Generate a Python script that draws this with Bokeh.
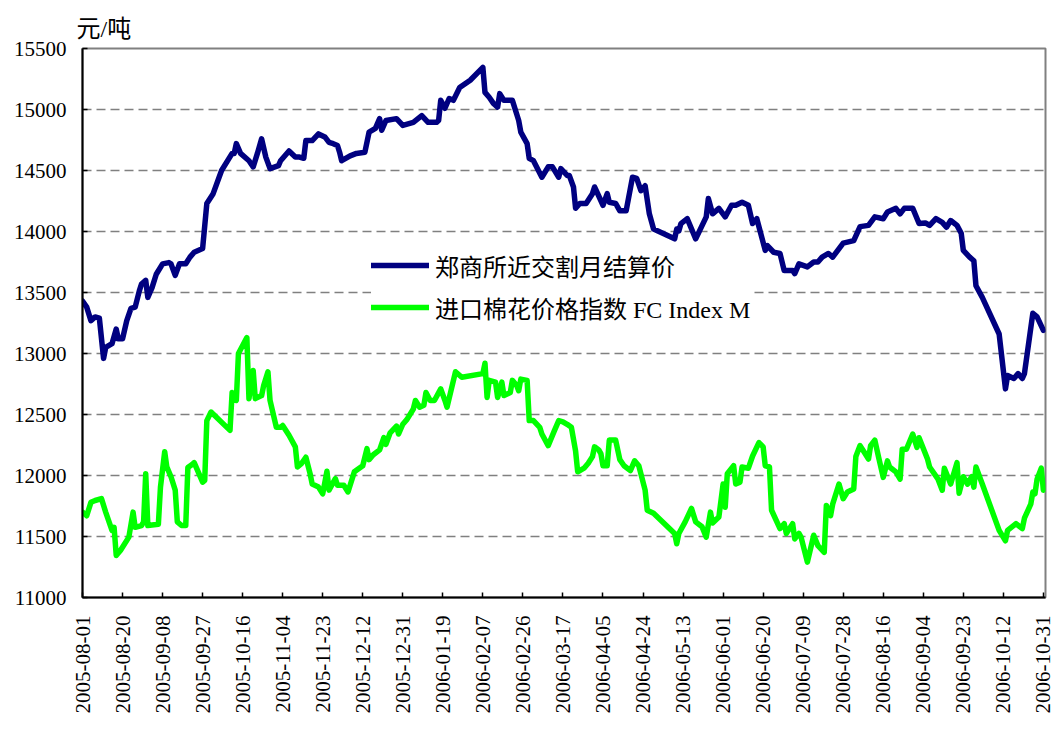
from math import pi
import pandas as pd
from bokeh.plotting import figure
from bokeh.models import (Range1d, FixedTicker, DatetimeTickFormatter,
                          Legend, LegendItem)
from bokeh.embed import file_html
from bokeh.resources import INLINE

# ---------------- data ----------------
tick_labels = ["2005-08-01", "2005-08-20", "2005-09-08", "2005-09-27", "2005-10-16",
               "2005-11-04", "2005-11-23", "2005-12-12", "2005-12-31", "2006-01-19",
               "2006-02-07", "2006-02-26", "2006-03-17", "2006-04-05", "2006-04-24",
               "2006-05-13", "2006-06-01", "2006-06-20", "2006-07-09", "2006-07-28",
               "2006-08-16", "2006-09-04", "2006-09-23", "2006-10-12", "2006-10-31"]
y_ticks = [11000, 11500, 12000, 12500, 13000, 13500, 14000, 14500, 15000, 15500]

unit_label = "元/吨"
series_names = ["郑商所近交割月结算价", "进口棉花价格指数 FC Index M"]

zce_dates = [
    "2005-08-01", "2005-08-03", "2005-08-05", "2005-08-07", "2005-08-09", "2005-08-11",
    "2005-08-12", "2005-08-15", "2005-08-17", "2005-08-18", "2005-08-20", "2005-08-22",
    "2005-08-24", "2005-08-26", "2005-08-28", "2005-08-29", "2005-08-31", "2005-09-01",
    "2005-09-03", "2005-09-05", "2005-09-08", "2005-09-11", "2005-09-12", "2005-09-14",
    "2005-09-16", "2005-09-19", "2005-09-21", "2005-09-23", "2005-09-27", "2005-09-29",
    "2005-10-02", "2005-10-06", "2005-10-11", "2005-10-12", "2005-10-13", "2005-10-15",
    "2005-10-19", "2005-10-21", "2005-10-23", "2005-10-25", "2005-10-27", "2005-10-29",
    "2005-11-02", "2005-11-03", "2005-11-07", "2005-11-10", "2005-11-12", "2005-11-14",
    "2005-11-15", "2005-11-18", "2005-11-21", "2005-11-24", "2005-11-26", "2005-11-28",
    "2005-11-30", "2005-12-01", "2005-12-02", "2005-12-06", "2005-12-09", "2005-12-13",
    "2005-12-15", "2005-12-18", "2005-12-20", "2005-12-21", "2005-12-23", "2005-12-28",
    "2005-12-31", "2006-01-05", "2006-01-09", "2006-01-12", "2006-01-16", "2006-01-17",
    "2006-01-18", "2006-01-20", "2006-01-22", "2006-01-24", "2006-01-27", "2006-02-01",
    "2006-02-07", "2006-02-08", "2006-02-10", "2006-02-12", "2006-02-14", "2006-02-15",
    "2006-02-17", "2006-02-21", "2006-02-23", "2006-02-24", "2006-02-25", "2006-02-28",
    "2006-03-01", "2006-03-03", "2006-03-07", "2006-03-10", "2006-03-12", "2006-03-15",
    "2006-03-16", "2006-03-19", "2006-03-20", "2006-03-22", "2006-03-23", "2006-03-25",
    "2006-03-28", "2006-03-31", "2006-04-01", "2006-04-05", "2006-04-07", "2006-04-08",
    "2006-04-11", "2006-04-13", "2006-04-16", "2006-04-19", "2006-04-21", "2006-04-23",
    "2006-04-25", "2006-04-27", "2006-04-29", "2006-05-09", "2006-05-10", "2006-05-11",
    "2006-05-12", "2006-05-15", "2006-05-19", "2006-05-24", "2006-05-25", "2006-05-27",
    "2006-05-30", "2006-06-02", "2006-06-05", "2006-06-07", "2006-06-10", "2006-06-13",
    "2006-06-15", "2006-06-17", "2006-06-21", "2006-06-22", "2006-06-25", "2006-06-28",
    "2006-06-30", "2006-07-04", "2006-07-05", "2006-07-07", "2006-07-11", "2006-07-14",
    "2006-07-16", "2006-07-18", "2006-07-21", "2006-07-23", "2006-07-28", "2006-08-02",
    "2006-08-05", "2006-08-09", "2006-08-12", "2006-08-16", "2006-08-18", "2006-08-22",
    "2006-08-24", "2006-08-26", "2006-08-30", "2006-09-02", "2006-09-05", "2006-09-07",
    "2006-09-10", "2006-09-13", "2006-09-15", "2006-09-17", "2006-09-20", "2006-09-22",
    "2006-09-23", "2006-09-26", "2006-09-28", "2006-09-29", "2006-10-02", "2006-10-10",
    "2006-10-13", "2006-10-14", "2006-10-17", "2006-10-19", "2006-10-21", "2006-10-22",
    "2006-10-26", "2006-10-28", "2006-10-31"]
zce_values = [
    13430, 13380, 13270, 13300, 13290, 12960,
    13050, 13080, 13200, 13120, 13120, 13270,
    13370, 13380, 13515, 13570, 13600, 13460,
    13540, 13650, 13735, 13745, 13735, 13640,
    13735, 13735, 13790, 13830, 13860, 14230,
    14310, 14500, 14640, 14640, 14720, 14640,
    14580, 14530, 14640, 14760, 14610, 14515,
    14540, 14580, 14660, 14610, 14610, 14600,
    14745, 14745, 14800, 14775, 14730, 14720,
    14705, 14650, 14580, 14620, 14640, 14650,
    14815, 14845, 14925, 14830, 14910, 14925,
    14870, 14895, 14950, 14895, 14895, 14910,
    15075, 15010, 15090, 15075, 15180, 15240,
    15345, 15140, 15100, 15050, 15020, 15130,
    15075, 15075, 14965, 14910, 14815, 14720,
    14600, 14580, 14445, 14530, 14530, 14445,
    14515, 14460, 14460, 14365, 14190, 14230,
    14230, 14310, 14365, 14215, 14310, 14240,
    14230, 14170, 14170, 14445, 14435, 14335,
    14375, 14145, 14020, 13940, 14020, 14005,
    14065, 14105, 13940, 14120, 14270, 14145,
    14190, 14120, 14215, 14215, 14240, 14215,
    14065, 14105, 13845, 13885, 13830, 13820,
    13680, 13680, 13655, 13735, 13710, 13750,
    13750, 13790, 13820, 13790, 13905, 13925,
    14040, 14050, 14120, 14105, 14160, 14190,
    14145, 14190, 14190, 14065, 14070, 14050,
    14105, 14075, 14035, 14090, 14050, 13985,
    13845, 13790, 13760, 13555, 13460, 13160,
    12710, 12820, 12795, 12835, 12795, 12835,
    13330, 13300, 13190]

fc_dates = [
    "2005-08-01", "2005-08-03", "2005-08-05", "2005-08-07", "2005-08-10", "2005-08-12",
    "2005-08-15", "2005-08-16", "2005-08-17", "2005-08-19", "2005-08-23", "2005-08-25",
    "2005-08-26", "2005-08-29", "2005-08-30", "2005-08-31", "2005-09-01", "2005-09-06",
    "2005-09-07", "2005-09-09", "2005-09-10", "2005-09-12", "2005-09-14", "2005-09-15",
    "2005-09-17", "2005-09-19", "2005-09-20", "2005-09-22", "2005-09-23", "2005-09-27",
    "2005-09-28", "2005-09-29", "2005-10-01", "2005-10-10", "2005-10-11", "2005-10-13",
    "2005-10-14", "2005-10-18", "2005-10-19", "2005-10-21", "2005-10-22", "2005-10-25",
    "2005-10-26", "2005-10-28", "2005-10-29", "2005-11-01", "2005-11-03", "2005-11-04",
    "2005-11-07", "2005-11-10", "2005-11-11", "2005-11-13", "2005-11-15", "2005-11-17",
    "2005-11-18", "2005-11-21", "2005-11-23", "2005-11-25", "2005-11-26", "2005-11-29",
    "2005-11-30", "2005-12-03", "2005-12-05", "2005-12-08", "2005-12-12", "2005-12-14",
    "2005-12-15", "2005-12-17", "2005-12-20", "2005-12-22", "2005-12-23", "2005-12-25",
    "2005-12-28", "2005-12-29", "2005-12-31", "2006-01-02", "2006-01-05", "2006-01-06",
    "2006-01-08", "2006-01-10", "2006-01-11", "2006-01-13", "2006-01-15", "2006-01-18",
    "2006-01-20", "2006-01-21", "2006-01-25", "2006-01-28", "2006-02-07", "2006-02-08",
    "2006-02-09", "2006-02-10", "2006-02-13", "2006-02-14", "2006-02-16", "2006-02-17",
    "2006-02-20", "2006-02-21", "2006-02-23", "2006-02-24", "2006-02-25", "2006-02-28",
    "2006-03-01", "2006-03-03", "2006-03-06", "2006-03-07", "2006-03-10", "2006-03-13",
    "2006-03-15", "2006-03-17", "2006-03-19", "2006-03-21", "2006-03-23", "2006-03-24",
    "2006-03-27", "2006-03-29", "2006-03-31", "2006-04-01", "2006-04-03", "2006-04-04",
    "2006-04-05", "2006-04-07", "2006-04-08", "2006-04-11", "2006-04-13", "2006-04-15",
    "2006-04-18", "2006-04-20", "2006-04-22", "2006-04-25", "2006-04-26", "2006-04-29",
    "2006-05-09", "2006-05-10", "2006-05-11", "2006-05-14", "2006-05-17", "2006-05-19",
    "2006-05-22", "2006-05-24", "2006-05-26", "2006-05-27", "2006-05-30", "2006-05-31",
    "2006-06-01", "2006-06-02", "2006-06-03", "2006-06-06", "2006-06-07", "2006-06-09",
    "2006-06-10", "2006-06-13", "2006-06-15", "2006-06-18", "2006-06-20", "2006-06-21",
    "2006-06-23", "2006-06-24", "2006-06-28", "2006-06-30", "2006-07-01", "2006-07-04",
    "2006-07-05", "2006-07-07", "2006-07-08", "2006-07-11", "2006-07-14", "2006-07-16",
    "2006-07-19", "2006-07-20", "2006-07-22", "2006-07-23", "2006-07-26", "2006-07-28",
    "2006-07-30", "2006-08-02", "2006-08-03", "2006-08-05", "2006-08-07", "2006-08-09",
    "2006-08-10", "2006-08-12", "2006-08-14", "2006-08-16", "2006-08-18", "2006-08-19",
    "2006-08-22", "2006-08-24", "2006-08-25", "2006-08-27", "2006-08-30", "2006-09-01",
    "2006-09-02", "2006-09-06", "2006-09-07", "2006-09-11", "2006-09-13", "2006-09-14",
    "2006-09-17", "2006-09-20", "2006-09-21", "2006-09-23", "2006-09-25", "2006-09-27",
    "2006-09-28", "2006-09-29", "2006-10-02", "2006-10-10", "2006-10-13", "2006-10-14",
    "2006-10-18", "2006-10-21", "2006-10-22", "2006-10-25", "2006-10-26", "2006-10-27",
    "2006-10-28", "2006-10-30", "2006-10-31"]
fc_values = [
    11700, 11670, 11780, 11795, 11810, 11700,
    11550, 11575, 11345, 11385, 11495, 11700,
    11575, 11590, 11620, 12015, 11590, 11600,
    11905, 12195, 12070, 11990, 11880, 11620,
    11590, 11590, 12065, 12090, 12105, 11945,
    11960, 12450, 12520, 12370, 12680, 12615,
    13000, 13130, 12630, 12860, 12630, 12655,
    12740, 12850, 12615, 12395, 12395, 12410,
    12330, 12235, 12070, 12100, 12150, 12015,
    11930, 11905, 11850, 12035, 11880, 11975,
    11920, 11920, 11865, 12030, 12080, 12220,
    12130, 12170, 12210, 12310, 12255, 12350,
    12405, 12340, 12420, 12460, 12545, 12615,
    12560, 12575, 12680, 12615, 12615, 12710,
    12615, 12560, 12850, 12805, 12835, 12920,
    12640, 12780, 12765, 12640, 12765, 12655,
    12680, 12780, 12740, 12695, 12790, 12780,
    12450, 12450, 12395, 12340, 12245, 12370,
    12450, 12440, 12420, 12395, 12200, 12030,
    12060, 12100, 12155, 12235, 12210, 12180,
    12080, 12080, 12290, 12290, 12130, 12080,
    12040, 12120, 12080, 11880, 11715, 11690,
    11525, 11440, 11525, 11620, 11730, 11620,
    11580, 11495, 11700, 11610, 11660, 11795,
    11930, 11740, 12015, 12080, 11930, 11945,
    12070, 12060, 12160, 12270, 12235, 12080,
    12070, 11715, 11565, 11605, 11525, 11605,
    11480, 11525, 11495, 11290, 11510, 11425,
    11370, 11755, 11670, 11765, 11930, 11810,
    11865, 11890, 12155, 12245, 12190, 12135,
    12245, 12290, 12135, 11985, 12120, 12070,
    12030, 11970, 12215, 12215, 12340, 12230,
    12310, 12135, 12070, 11970, 11880, 12060,
    11930, 12105, 11855, 11990, 11930, 11990,
    11905, 12070, 11930, 11550, 11465, 11550,
    11605, 11565, 11650, 11765, 11865, 11850,
    11970, 12060, 11880]

# ---------------- figure ----------------
FONT = "Liberation Serif, Noto Sans CJK SC"

p = figure(width=1055, height=735, x_axis_type="datetime",
           output_backend="svg", toolbar_location=None,
           x_range=Range1d(pd.Timestamp("2005-08-01"), pd.Timestamp("2006-11-01")),
           y_range=Range1d(11000, 15500),
           min_border_left=82, min_border_right=10,
           min_border_top=48, min_border_bottom=138)

p.title.text = unit_label
p.title.align = "left"
p.title.vertical_align = "top"
p.title.offset = -6
p.title.text_font = FONT
p.title.text_font_size = "24px"
p.title.text_font_style = "normal"
p.title.text_color = "black"
p.title.standoff = 10

p.background_fill_color = "white"
p.border_fill_color = "white"
p.outline_line_color = "#808080"
p.outline_line_width = 2

r_zce = p.line(pd.to_datetime(zce_dates), zce_values, line_color="#000080",
               line_width=5.5, line_join="round", line_cap="round")
r_fc = p.line(pd.to_datetime(fc_dates), fc_values, line_color="#00FF00",
              line_width=5.5, line_join="round", line_cap="round")

tick_ms = [pd.Timestamp(d).value / 1e6 for d in tick_labels]
fmt = "%Y-%m-%d"
p.xaxis.ticker = FixedTicker(ticks=tick_ms)
p.xaxis.formatter = DatetimeTickFormatter(
    microseconds=fmt, milliseconds=fmt, seconds=fmt, minsec=fmt, minutes=fmt,
    hourmin=fmt, hours=fmt, days=fmt, months=fmt, years=fmt)
p.xaxis.major_label_orientation = pi / 2
p.yaxis.ticker = FixedTicker(ticks=y_ticks)

for ax in (p.xaxis[0], p.yaxis[0]):
    ax.axis_line_color = "black"
    ax.axis_line_width = 2
    ax.major_tick_in = 5
    ax.major_tick_out = 0
    ax.major_tick_line_color = "black"
    ax.major_tick_line_width = 1.5
    ax.minor_tick_line_color = None
    ax.major_label_text_font = FONT
    ax.major_label_text_color = "black"
p.yaxis.major_label_text_font_size = "21px"
p.xaxis.major_label_text_font_size = "21px"
p.yaxis.major_label_standoff = 16
p.xaxis.major_label_standoff = 18

p.xgrid.grid_line_color = None
p.ygrid.ticker = FixedTicker(ticks=y_ticks)
p.ygrid.grid_line_color = "#808080"
p.ygrid.grid_line_width = 1.5
p.ygrid.grid_line_dash = "9 5"

legend = Legend(items=[LegendItem(label=series_names[0], renderers=[r_zce]),
                       LegendItem(label=series_names[1], renderers=[r_fc])],
                location=(289, 272))
legend.label_text_font = FONT
legend.label_text_font_size = "24px"
legend.label_text_color = "black"
legend.glyph_width = 58
legend.glyph_height = 36
legend.label_height = 36
legend.label_standoff = 6
legend.spacing = 6
legend.padding = 10
legend.margin = 0
legend.border_line_color = None
legend.background_fill_color = "white"
legend.background_fill_alpha = 1.0
p.add_layout(legend)

open("out.html", "w").write(file_html(p, INLINE))
